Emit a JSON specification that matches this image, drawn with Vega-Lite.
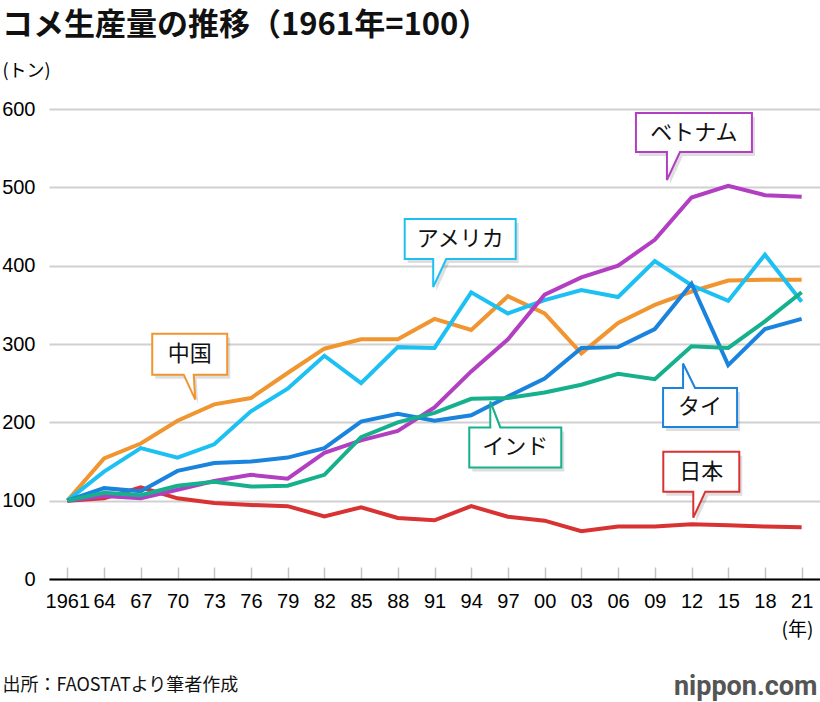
{
 "$schema": "https://vega.github.io/schema/vega-lite/v6.json",
 "width": 771,
 "height": 470,
 "autosize": {"type": "none"},
 "padding": {"left": 49, "top": 109, "right": 0, "bottom": 123},
 "background": "white",
 "config": {"view": {"stroke": null}, "font": "Noto Sans CJK JP"},
 "title": {"text": "コメ生産量の推移（1961年=100）", "anchor": "start", "frame": "group", "dx": -47, "offset": 20, "fontSize": 31, "fontWeight": "bold", "font": "Noto Sans CJK JP", "color": "#111111"},
 "datasets": {
  "rice": [
   {"country": "日本", "year": 1961, "value": 100}, {"country": "日本", "year": 1964, "value": 103}, {"country": "日本", "year": 1967, "value": 117}, {"country": "日本", "year": 1970, "value": 103}, {"country": "日本", "year": 1973, "value": 97}, {"country": "日本", "year": 1976, "value": 94.5}, {"country": "日本", "year": 1979, "value": 93}, {"country": "日本", "year": 1982, "value": 80}, {"country": "日本", "year": 1985, "value": 91.5}, {"country": "日本", "year": 1988, "value": 78}, {"country": "日本", "year": 1991, "value": 75}, {"country": "日本", "year": 1994, "value": 93}, {"country": "日本", "year": 1997, "value": 79.5}, {"country": "日本", "year": 2000, "value": 74.5}, {"country": "日本", "year": 2003, "value": 61}, {"country": "日本", "year": 2006, "value": 67}, {"country": "日本", "year": 2009, "value": 67}, {"country": "日本", "year": 2012, "value": 70}, {"country": "日本", "year": 2015, "value": 68.5}, {"country": "日本", "year": 2018, "value": 67}, {"country": "日本", "year": 2021, "value": 66},
   {"country": "中国", "year": 1961, "value": 100}, {"country": "中国", "year": 1964, "value": 154}, {"country": "中国", "year": 1967, "value": 173}, {"country": "中国", "year": 1970, "value": 202}, {"country": "中国", "year": 1973, "value": 223}, {"country": "中国", "year": 1976, "value": 231}, {"country": "中国", "year": 1979, "value": 263}, {"country": "中国", "year": 1982, "value": 294}, {"country": "中国", "year": 1985, "value": 306}, {"country": "中国", "year": 1988, "value": 306}, {"country": "中国", "year": 1991, "value": 332}, {"country": "中国", "year": 1994, "value": 318}, {"country": "中国", "year": 1997, "value": 361}, {"country": "中国", "year": 2000, "value": 339}, {"country": "中国", "year": 2003, "value": 288}, {"country": "中国", "year": 2006, "value": 327}, {"country": "中国", "year": 2009, "value": 350}, {"country": "中国", "year": 2012, "value": 367}, {"country": "中国", "year": 2015, "value": 381}, {"country": "中国", "year": 2018, "value": 382}, {"country": "中国", "year": 2021, "value": 382},
   {"country": "アメリカ", "year": 1961, "value": 100}, {"country": "アメリカ", "year": 1964, "value": 137}, {"country": "アメリカ", "year": 1967, "value": 167}, {"country": "アメリカ", "year": 1970, "value": 155}, {"country": "アメリカ", "year": 1973, "value": 172}, {"country": "アメリカ", "year": 1976, "value": 214}, {"country": "アメリカ", "year": 1979, "value": 243}, {"country": "アメリカ", "year": 1982, "value": 285}, {"country": "アメリカ", "year": 1985, "value": 250}, {"country": "アメリカ", "year": 1988, "value": 296}, {"country": "アメリカ", "year": 1991, "value": 295}, {"country": "アメリカ", "year": 1994, "value": 366}, {"country": "アメリカ", "year": 1997, "value": 339}, {"country": "アメリカ", "year": 2000, "value": 356}, {"country": "アメリカ", "year": 2003, "value": 369}, {"country": "アメリカ", "year": 2006, "value": 360}, {"country": "アメリカ", "year": 2009, "value": 406}, {"country": "アメリカ", "year": 2012, "value": 375}, {"country": "アメリカ", "year": 2015, "value": 355}, {"country": "アメリカ", "year": 2018, "value": 414}, {"country": "アメリカ", "year": 2021, "value": 354},
   {"country": "ベトナム", "year": 1961, "value": 100}, {"country": "ベトナム", "year": 1964, "value": 106}, {"country": "ベトナム", "year": 1967, "value": 103}, {"country": "ベトナム", "year": 1970, "value": 114}, {"country": "ベトナム", "year": 1973, "value": 125}, {"country": "ベトナム", "year": 1976, "value": 133}, {"country": "ベトナム", "year": 1979, "value": 128}, {"country": "ベトナム", "year": 1982, "value": 161}, {"country": "ベトナム", "year": 1985, "value": 177}, {"country": "ベトナム", "year": 1988, "value": 189}, {"country": "ベトナム", "year": 1991, "value": 219}, {"country": "ベトナム", "year": 1994, "value": 265}, {"country": "ベトナム", "year": 1997, "value": 306}, {"country": "ベトナム", "year": 2000, "value": 363}, {"country": "ベトナム", "year": 2003, "value": 385}, {"country": "ベトナム", "year": 2006, "value": 400}, {"country": "ベトナム", "year": 2009, "value": 433}, {"country": "ベトナム", "year": 2012, "value": 487}, {"country": "ベトナム", "year": 2015, "value": 502}, {"country": "ベトナム", "year": 2018, "value": 490}, {"country": "ベトナム", "year": 2021, "value": 488},
   {"country": "タイ", "year": 1961, "value": 100}, {"country": "タイ", "year": 1964, "value": 116}, {"country": "タイ", "year": 1967, "value": 112}, {"country": "タイ", "year": 1970, "value": 138}, {"country": "タイ", "year": 1973, "value": 148}, {"country": "タイ", "year": 1976, "value": 150}, {"country": "タイ", "year": 1979, "value": 155}, {"country": "タイ", "year": 1982, "value": 167}, {"country": "タイ", "year": 1985, "value": 201}, {"country": "タイ", "year": 1988, "value": 211}, {"country": "タイ", "year": 1991, "value": 202}, {"country": "タイ", "year": 1994, "value": 209}, {"country": "タイ", "year": 1997, "value": 233}, {"country": "タイ", "year": 2000, "value": 256}, {"country": "タイ", "year": 2003, "value": 295}, {"country": "タイ", "year": 2006, "value": 296}, {"country": "タイ", "year": 2009, "value": 319}, {"country": "タイ", "year": 2012, "value": 377}, {"country": "タイ", "year": 2015, "value": 273}, {"country": "タイ", "year": 2018, "value": 319}, {"country": "タイ", "year": 2021, "value": 332},
   {"country": "インド", "year": 1961, "value": 100}, {"country": "インド", "year": 1964, "value": 110}, {"country": "インド", "year": 1967, "value": 107}, {"country": "インド", "year": 1970, "value": 119}, {"country": "インド", "year": 1973, "value": 124}, {"country": "インド", "year": 1976, "value": 118}, {"country": "インド", "year": 1979, "value": 119}, {"country": "インド", "year": 1982, "value": 133}, {"country": "インド", "year": 1985, "value": 181}, {"country": "インド", "year": 1988, "value": 200}, {"country": "インド", "year": 1991, "value": 212}, {"country": "インド", "year": 1994, "value": 230}, {"country": "インド", "year": 1997, "value": 231}, {"country": "インド", "year": 2000, "value": 238}, {"country": "インド", "year": 2003, "value": 248}, {"country": "インド", "year": 2006, "value": 262}, {"country": "インド", "year": 2009, "value": 255}, {"country": "インド", "year": 2012, "value": 297}, {"country": "インド", "year": 2015, "value": 295}, {"country": "インド", "year": 2018, "value": 329}, {"country": "インド", "year": 2021, "value": 366}
  ],
  "labels": [
   {"country": "中国", "year": 1971.0, "value": 287},
   {"country": "アメリカ", "year": 1993.1, "value": 434},
   {"country": "ベトナム", "year": 2012.2, "value": 570},
   {"country": "タイ", "year": 2012.7, "value": 219},
   {"country": "インド", "year": 1997.6, "value": 168},
   {"country": "日本", "year": 2012.8, "value": 137}
  ]
 },
 "layer": [
  {
   "data": {"name": "rice"},
   "mark": {"type": "line", "strokeWidth": 4},
   "encoding": {
    "x": {"field": "year", "type": "quantitative", "scale": {"domain": [1959.5, 2022.5], "nice": false, "zero": false},
     "axis": {"values": [1961, 1964, 1967, 1970, 1973, 1976, 1979, 1982, 1985, 1988, 1991, 1994, 1997, 2000, 2003, 2006, 2009, 2012, 2015, 2018, 2021],
      "labelExpr": "datum.value == 1961 ? '1961' : (datum.value % 100 < 10 ? '0' + (datum.value % 100) : '' + (datum.value % 100))",
      "labelOverlap": false, "labelFlush": false, "labelFont": "Liberation Sans", "labelFontSize": 20, "labelColor": "#000000", "labelPadding": 24,
      "domainColor": "#000000", "domainWidth": 2, "tickColor": "#c4c4c4", "tickWidth": 1.5, "tickSize": -12, "grid": false,
      "title": "(年)", "titleX": 748, "titleY": 50, "titleAlign": "center", "titleBaseline": "middle", "titleFontSize": 19, "titleFontWeight": "normal", "titleFont": "Noto Sans CJK JP", "titleColor": "#000000"}},
    "y": {"field": "value", "type": "quantitative", "scale": {"domain": [0, 600], "nice": false},
     "axis": {"values": [0, 100, 200, 300, 400, 500, 600], "grid": true, "gridColor": "#d0d0d0", "gridWidth": 2, "domain": false, "ticks": false, "labelPadding": 14,
      "labelFont": "Liberation Sans", "labelFontSize": 20, "labelColor": "#000000",
      "title": "(トン)", "titleAngle": 0, "titleX": -47, "titleY": -38, "titleAlign": "left", "titleBaseline": "middle", "titleFontSize": 18, "titleFontWeight": "normal", "titleFont": "Noto Sans CJK JP", "titleColor": "#000000"}},
    "color": {"field": "country", "type": "nominal",
     "scale": {"domain": ["アメリカ", "中国", "ベトナム", "タイ", "インド", "日本"], "range": ["#1dc0f2", "#f0952f", "#b23fc1", "#1a83de", "#16b18c", "#d83232"]}, "legend": null}
   }
  },
  {
   "data": {"name": "labels"},
   "encoding": {
    "x": {"field": "year", "type": "quantitative", "scale": {"domain": [1959.5, 2022.5], "nice": false, "zero": false},
     "axis": {"orient": "top", "domain": false, "ticks": false, "labels": false, "grid": false,
      "title": "出所：FAOSTATより筆者作成", "titleX": -47, "titleY": 576, "titleAlign": "left", "titleBaseline": "middle", "titleFontSize": 18, "titleFontWeight": "normal", "titleFont": "Noto Sans CJK JP", "titleColor": "#111111"}},
    "y": {"field": "value", "type": "quantitative", "scale": {"domain": [0, 600], "nice": false},
     "axis": {"orient": "right", "domain": false, "ticks": false, "labels": false, "grid": false,
      "title": "nippon.com", "titleAngle": 0, "titleX": -3, "titleY": 577, "titleAlign": "right", "titleBaseline": "middle", "titleFontSize": 27, "titleFontWeight": "bold", "titleFont": "Roboto", "titleColor": "#555555"}}
   },
   "layer": [
    {
     "mark": {"type": "point", "filled": true, "fill": "#000000", "fillOpacity": 0.13, "strokeOpacity": 0, "size": 4, "xOffset": 3, "yOffset": 4},
     "encoding": {
      "shape": {"field": "country", "type": "nominal", "legend": null,
       "scale": {"domain": ["中国", "アメリカ", "ベトナム", "タイ", "インド", "日本"],
        "range": ["M-37.5,-20.5 H37.5 V20.5 H4 L5.5,45.5 L-6,20.5 H-37.5 Z", "M-55.5,-20 H55.5 V20 H-14 L-27,48 V20 H-55.5 Z", "M-58,-19.5 H58 V19.5 H-14 L-27,47.5 V19.5 H-58 Z", "M-37,19.5 H37 V-19.5 H-5 L-17,-44 V-19.5 H-37 Z", "M-46,20 H46 V-20 H-15 L-25,-46 V-20 H-46 Z", "M-38,-20 H38 V20 H4 L-8,46 V20 H-38 Z"]}}
     }
    },
    {
     "mark": {"type": "point", "filled": true, "fill": "#ffffff", "fillOpacity": 1, "opacity": 1, "strokeWidth": 2, "size": 4},
     "encoding": {
      "shape": {"field": "country", "type": "nominal", "legend": null,
       "scale": {"domain": ["中国", "アメリカ", "ベトナム", "タイ", "インド", "日本"],
        "range": ["M-37.5,-20.5 H37.5 V20.5 H4 L5.5,45.5 L-6,20.5 H-37.5 Z", "M-55.5,-20 H55.5 V20 H-14 L-27,48 V20 H-55.5 Z", "M-58,-19.5 H58 V19.5 H-14 L-27,47.5 V19.5 H-58 Z", "M-37,19.5 H37 V-19.5 H-5 L-17,-44 V-19.5 H-37 Z", "M-46,20 H46 V-20 H-15 L-25,-46 V-20 H-46 Z", "M-38,-20 H38 V20 H4 L-8,46 V20 H-38 Z"]}},
      "stroke": {"field": "country", "type": "nominal", "legend": null,
       "scale": {"domain": ["アメリカ", "中国", "ベトナム", "タイ", "インド", "日本"], "range": ["#1dc0f2", "#f0952f", "#b23fc1", "#1a83de", "#16b18c", "#d83232"]}}
     }
    },
    {
     "mark": {"type": "text", "font": "Noto Sans CJK JP", "fontSize": 22, "color": "#111111", "align": "center", "baseline": "middle"},
     "encoding": {"text": {"field": "country", "type": "nominal"}}
    }
   ]
  }
 ],
 "resolve": {"scale": {"x": "independent", "y": "independent"}, "axis": {"x": "independent", "y": "independent"}}
}
